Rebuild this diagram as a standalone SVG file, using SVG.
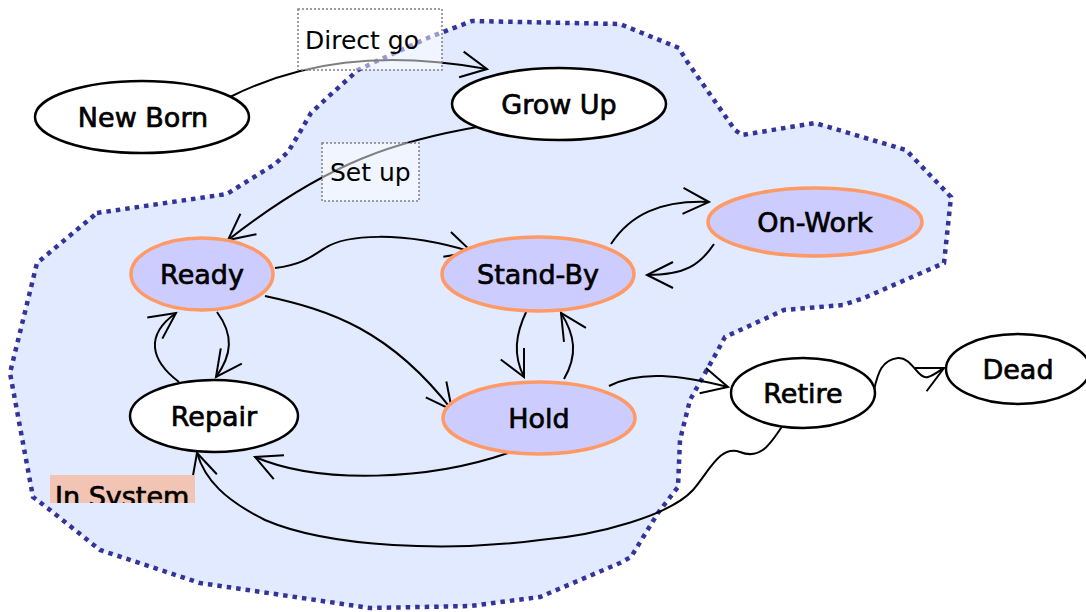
<svg xmlns="http://www.w3.org/2000/svg" width="1086" height="612" viewBox="0 0 1086 612">
  <defs>
    <marker id="arrow" markerUnits="userSpaceOnUse" markerWidth="40" markerHeight="40" refX="0" refY="0" viewBox="-30 -20 40 40" orient="auto" overflow="visible">
      <path d="M-26,-13 L0,0 L-26,13" fill="none" stroke="#000" stroke-width="2"/>
    </marker>
    <clipPath id="tagClip">
      <rect x="50" y="475" width="145" height="28"/>
    </clipPath>
  </defs>
  <style>
    .region { fill: #e1eafe; stroke: #333399; stroke-width: 4.5; stroke-dasharray: 4.5 5; }
    .state { fill: #ccccff; stroke: #ff9966; stroke-width: 3.5; }
    .plain { fill: #ffffff; stroke: #000000; stroke-width: 2.5; }
    .name { font-family: "DejaVu Sans", "Liberation Sans", sans-serif; font-size: 27px; fill: #000; stroke: #000; stroke-width: 0.7; text-anchor: middle; }
    .edge { fill: none; stroke: #000; stroke-width: 2; marker-end: url(#arrow); }
    .label-box { fill: #ffffff; fill-opacity: 0.5; stroke: #808080; stroke-width: 1.5; stroke-dasharray: 2 2; }
    .label { font-family: "DejaVu Sans", "Liberation Sans", sans-serif; font-size: 25px; fill: #000; }
  </style>

  <rect width="1086" height="612" fill="#ffffff"/>

  <!-- system boundary -->
  <path id="system" class="region" d="M97,213 L227,194 L238,187 L275,164 L288,152 L300,132 L311,113 L328,97 L358,70 L379,60 L430,37 L472,21 L620,24 L679,48 L686,60 L735,130 L742,135 L815,123 L906,150 L951,197 L944,263 L864,298 L843,305 L784,310 L725,337 L718,350 L690,400 L680,440 L678,487 L658,513 L631,557 L620,563 L540,597 L470,606 L370,608 L200,583 L100,550 L50,510 L33,497 L10,373 L37,263 Z"/>

  <!-- connectors -->
  <g id="connectors">
    <path class="edge" d="M230,97 C300,62 380,50 487,69"/>
    <path class="edge" d="M483,126 C400,140 330,160 228,240"/>
    <path class="edge" d="M275,268 C300,265 310,258 325,248 C345,235 400,230 472,252"/>
    <path class="edge" d="M265,296 C330,310 390,330 452,410"/>
    <path class="edge" d="M217,312 C234,335 232,355 216,377"/>
    <path class="edge" d="M179,382 C150,360 145,335 176,313"/>
    <path class="edge" d="M611,244 C630,215 660,200 709,202"/>
    <path class="edge" d="M714,244 C700,265 685,275 647,275"/>
    <path class="edge" d="M527,310 C515,335 513,355 524,377"/>
    <path class="edge" d="M564,379 C578,355 575,335 561,313"/>
    <path class="edge" d="M609,386 C640,370 680,375 728,387"/>
    <path class="edge" d="M874,390 C878,372 882,360 898,358 C912,357 918,380 928,377 C935,375 940,370 944,368"/>
    <path class="edge" d="M508,453 C430,480 320,485 255,457"/>
    <path class="edge" d="M783,425 C770,445 760,460 740,452 C720,445 710,470 693,490 C670,515 600,535 540,540 C450,552 330,548 265,520 C225,500 205,480 197,453"/>
  </g>

  <!-- transition labels -->
  <g id="label-direct-go">
    <rect class="label-box" x="298" y="9" width="144" height="61"/>
    <text class="label" x="305" y="49">Direct go</text>
  </g>
  <g id="label-set-up">
    <rect class="label-box" x="322" y="143" width="97" height="58"/>
    <text class="label" x="330" y="181">Set up</text>
  </g>

  <!-- states -->
  <g id="new-born">
    <ellipse class="plain" cx="142" cy="117" rx="107" ry="36"/>
    <text class="name" x="143" y="127">New Born</text>
  </g>
  <g id="grow-up">
    <ellipse class="plain" cx="559" cy="104" rx="107" ry="36"/>
    <text class="name" x="559" y="114">Grow Up</text>
  </g>
  <g id="ready">
    <ellipse class="state" cx="202" cy="274" rx="71" ry="36"/>
    <text class="name" x="202" y="284">Ready</text>
  </g>
  <g id="stand-by">
    <ellipse class="state" cx="538" cy="274" rx="96" ry="37"/>
    <text class="name" x="538" y="284">Stand-By</text>
  </g>
  <g id="on-work">
    <ellipse class="state" cx="815" cy="222" rx="107" ry="34"/>
    <text class="name" x="815" y="232">On-Work</text>
  </g>
  <g id="repair">
    <ellipse class="plain" cx="214" cy="416" rx="84" ry="36"/>
    <text class="name" x="214" y="426">Repair</text>
  </g>
  <g id="hold">
    <ellipse class="state" cx="539" cy="418" rx="96" ry="36"/>
    <text class="name" x="539" y="428">Hold</text>
  </g>
  <g id="retire">
    <ellipse class="plain" cx="803" cy="393" rx="72" ry="35"/>
    <text class="name" x="803" y="403">Retire</text>
  </g>
  <g id="dead">
    <ellipse class="plain" cx="1018" cy="369" rx="72" ry="35"/>
    <text class="name" x="1018" y="379">Dead</text>
  </g>

  <!-- region tag -->
  <g id="in-system" clip-path="url(#tagClip)">
    <rect x="50" y="475" width="145" height="28" fill="#f2c4b4"/>
    <text class="name" x="55" y="506" style="text-anchor:start">In System</text>
  </g>
</svg>
